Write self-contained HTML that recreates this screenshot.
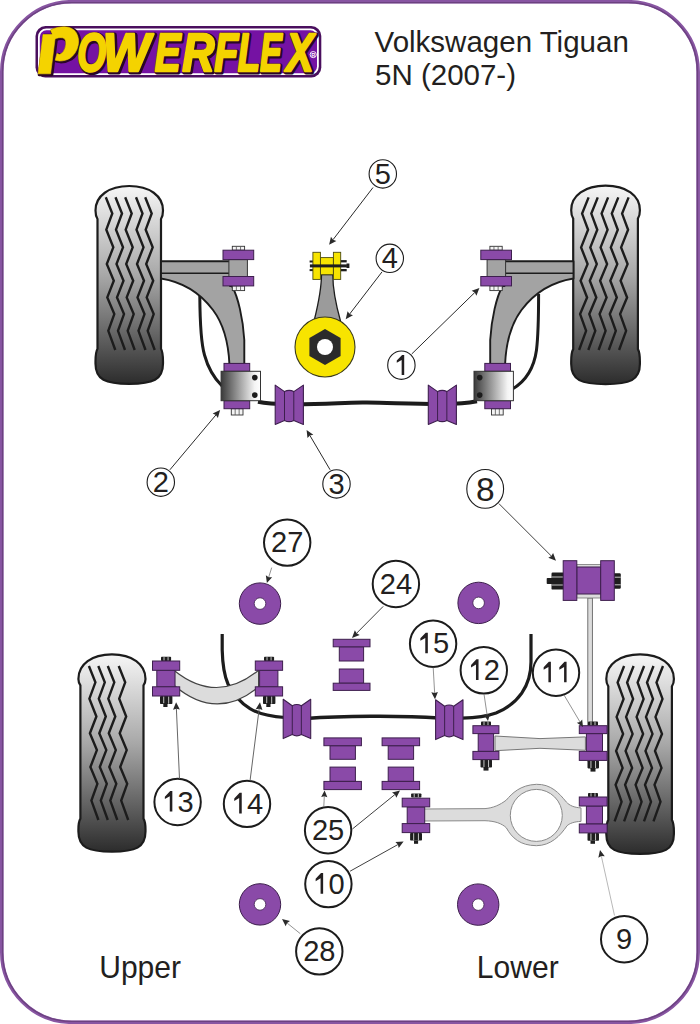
<!DOCTYPE html>
<html><head><meta charset="utf-8"><title>Powerflex VW Tiguan</title>
<style>
html,body{margin:0;padding:0;background:#fff;}
body{width:700px;height:1024px;overflow:hidden;}
svg{display:block;font-family:"Liberation Sans",sans-serif;}
</style></head><body>
<svg width="700" height="1024" viewBox="0 0 700 1024">
<defs>
<linearGradient id="tg" x1="0" y1="0" x2="0" y2="1">
<stop offset="0" stop-color="#f6f6f6"/><stop offset="0.45" stop-color="#a8a8a8"/><stop offset="0.82" stop-color="#555"/><stop offset="1" stop-color="#2c2c2c"/>
</linearGradient>
<linearGradient id="bg" x1="0" y1="0" x2="1" y2="0">
<stop offset="0" stop-color="#3a3a3a"/><stop offset="0.85" stop-color="#f4f4f4"/><stop offset="1" stop-color="#fff"/>
</linearGradient>
<linearGradient id="bg2" x1="0" y1="0" x2="1" y2="0">
<stop offset="0" stop-color="#3a3a3a"/><stop offset="0.85" stop-color="#f4f4f4"/><stop offset="1" stop-color="#fff"/>
</linearGradient>
</defs>
<rect x="1.8" y="1.75" width="696.35" height="1020.5" rx="70" ry="70" fill="none" stroke="#8855a2" stroke-width="3.6"/>
<rect x="2.6" y="2.55" width="694.75" height="1018.9" rx="69.2" ry="69.2" fill="none" stroke="#6c4280" stroke-width="1.3"/>
<rect x="35.5" y="26" width="285.8" height="51.5" rx="10" fill="#4a0f5e"/>
<rect x="38.9" y="29.4" width="279" height="44.7" rx="7.5" fill="#7512a3" stroke="#fff" stroke-width="1.8"/>
<g font-family="&quot;Liberation Sans&quot;, sans-serif" font-weight="bold" font-style="italic" font-size="54.5"><g fill="#2a0626" stroke="#2a0626" stroke-linejoin="round"><g stroke-width="5.2"><text x="0" y="0" transform="translate(78.38,72) scale(0.68,1)">O</text><text x="0" y="0" transform="translate(104.05,72) scale(0.92,1)">W</text><text x="0" y="0" transform="translate(156.02,72) scale(0.71,1)">E</text><text x="0" y="0" transform="translate(183.42,72) scale(0.82,1)">R</text><text x="0" y="0" transform="translate(215.51,72) scale(0.72,1)">F</text><text x="0" y="0" transform="translate(239.06,72) scale(0.67,1)">L</text><text x="0" y="0" transform="translate(261.13,72) scale(0.6,1)">E</text><text x="0" y="0" transform="translate(287.57,72) scale(0.75,1)">X</text></g><g stroke-width="3.2"><path transform="translate(1.2,0.8)" d="M38.1,73.8 L50.6,73.8 L55.6,34.5 L43,34.5 Z"/><path transform="translate(1.2,0.8)" d="M50.5,30 C55,27.6 60,26.8 64.5,26.8 C70,26.9 74,29 76.4,33 C78.5,37 79,41 78.2,45 C77,51 74,55.5 70,58.2 C67,60 63.5,61 59.5,61 L55.2,60.2 L57,53.5 L59.5,54.5 C62.5,53.5 64.8,50 65.6,46 C66.4,42 65.6,38.5 62.5,37.8 C59.5,37.3 56.5,38 54.5,39 Z"/></g></g><g fill="#f4d300" stroke="#f4d300" stroke-linejoin="round"><g stroke-width="2.4"><text x="0" y="0" transform="translate(77.18,71.2) scale(0.68,1)">O</text><text x="0" y="0" transform="translate(102.85,71.2) scale(0.92,1)">W</text><text x="0" y="0" transform="translate(154.82,71.2) scale(0.71,1)">E</text><text x="0" y="0" transform="translate(182.22,71.2) scale(0.82,1)">R</text><text x="0" y="0" transform="translate(214.31,71.2) scale(0.72,1)">F</text><text x="0" y="0" transform="translate(237.86,71.2) scale(0.67,1)">L</text><text x="0" y="0" transform="translate(259.93,71.2) scale(0.6,1)">E</text><text x="0" y="0" transform="translate(286.37,71.2) scale(0.75,1)">X</text></g><g stroke-width="0.6"><path transform="translate(0,0)" d="M38.1,73.8 L50.6,73.8 L55.6,34.5 L43,34.5 Z"/><path transform="translate(0,0)" d="M50.5,30 C55,27.6 60,26.8 64.5,26.8 C70,26.9 74,29 76.4,33 C78.5,37 79,41 78.2,45 C77,51 74,55.5 70,58.2 C67,60 63.5,61 59.5,61 L55.2,60.2 L57,53.5 L59.5,54.5 C62.5,53.5 64.8,50 65.6,46 C66.4,42 65.6,38.5 62.5,37.8 C59.5,37.3 56.5,38 54.5,39 Z"/></g></g></g>
<circle cx="313.2" cy="54.6" r="3.1" fill="none" stroke="#fff" stroke-width="0.9"/>
<text x="313.2" y="56.6" font-size="5.5" font-weight="bold" text-anchor="middle" fill="#fff">R</text>
<text x="374.6" y="51.7" font-size="29.5" fill="#231f20">Volkswagen Tiguan</text>
<text x="375" y="84.7" font-size="29.5" fill="#231f20">5N (2007-)</text>
<text x="0" y="0" transform="translate(99.2,978) scale(0.97,1)" font-size="31" fill="#231f20">Upper</text>
<text x="0" y="0" transform="translate(476.8,977.8) scale(0.97,1)" font-size="31" fill="#231f20">Lower</text>
<path d="M97.5,219 C95.5,216 95.5,213.5 95.5,210.5 C95.5,195.8 109,186 129.25,186 C149.5,186 163,195.8 163,210.5 C163,213.5 163,216 161,219 L161,348.8 C163.3,352.8 163,357.8 163,363.8 C163,379.8 153,383.8 129.25,383.8 C105.5,383.8 95.5,379.8 95.5,363.8 C95.5,357.8 95.2,352.8 97.5,348.8 Z" fill="url(#tg)" stroke="#1c1c1c" stroke-width="2.2"/>
<polyline points="105.8,197.3 112.3,213.48 106.3,229.66 113.3,247.36 106.8,264.04 113.8,280.73 107.3,297.41 114.3,314.1 108.3,330.79 115.3,350" fill="none" stroke="#1c1c1c" stroke-width="2.4" stroke-linejoin="miter"/>
<polyline points="115.5,197.3 122,213.48 116,229.66 123,247.36 116.5,264.04 123.5,280.73 117,297.41 124,314.1 118,330.79 125,350" fill="none" stroke="#1c1c1c" stroke-width="2.4" stroke-linejoin="miter"/>
<polyline points="125.2,197.3 131.7,213.48 125.7,229.66 132.7,247.36 126.2,264.04 133.2,280.73 126.7,297.41 133.7,314.1 127.7,330.79 134.7,350" fill="none" stroke="#1c1c1c" stroke-width="2.4" stroke-linejoin="miter"/>
<polyline points="136,197.3 142.5,213.48 136.5,229.66 143.5,247.36 137,264.04 144,280.73 137.5,297.41 144.5,314.1 138.5,330.79 145.5,350" fill="none" stroke="#1c1c1c" stroke-width="2.4" stroke-linejoin="miter"/>
<polyline points="145.2,197.3 151.7,213.48 145.7,229.66 152.7,247.36 146.2,264.04 153.2,280.73 146.7,297.41 153.7,314.1 147.7,330.79 154.7,350" fill="none" stroke="#1c1c1c" stroke-width="2.4" stroke-linejoin="miter"/>
<path d="M573.2,218.7 C571.2,215.7 571.2,213.2 571.2,210.2 C571.2,195.5 584.94,185.7 605.55,185.7 C626.16,185.7 639.9,195.5 639.9,210.2 C639.9,213.2 639.9,215.7 637.9,218.7 L637.9,349.1 C640.2,353.1 639.9,358.1 639.9,364.1 C639.9,380.1 629.9,384.1 605.55,384.1 C581.2,384.1 571.2,380.1 571.2,364.1 C571.2,358.1 570.9,353.1 573.2,349.1 Z" fill="url(#tg)" stroke="#1c1c1c" stroke-width="2.2"/>
<polyline points="628.6,197.4 622.1,213.57 628.1,229.74 621.1,247.42 627.6,264.1 620.6,280.77 627.1,297.45 620.1,314.12 626.1,330.8 619.1,350" fill="none" stroke="#1c1c1c" stroke-width="2.4" stroke-linejoin="miter"/>
<polyline points="618.3,197.4 611.8,213.57 617.8,229.74 610.8,247.42 617.3,264.1 610.3,280.77 616.8,297.45 609.8,314.12 615.8,330.8 608.8,350" fill="none" stroke="#1c1c1c" stroke-width="2.4" stroke-linejoin="miter"/>
<polyline points="608.1,197.4 601.6,213.57 607.6,229.74 600.6,247.42 607.1,264.1 600.1,280.77 606.6,297.45 599.6,314.12 605.6,330.8 598.6,350" fill="none" stroke="#1c1c1c" stroke-width="2.4" stroke-linejoin="miter"/>
<polyline points="597.8,197.4 591.3,213.57 597.3,229.74 590.3,247.42 596.8,264.1 589.8,280.77 596.3,297.45 589.3,314.12 595.3,330.8 588.3,350" fill="none" stroke="#1c1c1c" stroke-width="2.4" stroke-linejoin="miter"/>
<polyline points="588.6,197.4 582.1,213.57 588.1,229.74 581.1,247.42 587.6,264.1 580.6,280.77 587.1,297.45 580.1,314.12 586.1,330.8 579.1,350" fill="none" stroke="#1c1c1c" stroke-width="2.4" stroke-linejoin="miter"/>
<path d="M199.8,296 C200,325 201,343 204.5,355 C208,368 214,378 222,386" fill="none" stroke="#1c1c1c" stroke-width="3"/>
<path d="M538.6,294 C538.6,318 538.3,335 536.5,350 C534,368 526,381 512.5,389" fill="none" stroke="#1c1c1c" stroke-width="3"/>
<path d="M258,401.8 C266,403.5 272,404 290,404.3 C330,404.5 345,402 367,402.5 C395,403 420,404.3 445,404 C460,404 468,403 477,401.3" fill="none" stroke="#1c1c1c" stroke-width="4"/>
<g>
<path d="M161,261.2 H230 V286 L232,286 C238,297 243,318 244.3,340 L244.3,364 L229.4,364 C228.5,345 225,326 213,310 C201,294 183,282 161,278.5 Z" fill="#a3a3a3" stroke="#1c1c1c" stroke-width="1.9" stroke-linejoin="round"/>
<line x1="161" y1="273.3" x2="229" y2="273.3" stroke="#1c1c1c" stroke-width="1.4"/>
<rect x="232.3" y="246.3" width="12.3" height="3.9" fill="#f4f4f4" stroke="#333" stroke-width="0.9"/>
<line x1="236.36" y1="246.3" x2="236.36" y2="250.2" stroke="#555" stroke-width="0.8"/>
<line x1="240.54" y1="246.3" x2="240.54" y2="250.2" stroke="#555" stroke-width="0.8"/>
<rect x="232.3" y="285.9" width="12.3" height="4.7" fill="#f4f4f4" stroke="#333" stroke-width="0.9"/>
<line x1="236.36" y1="285.9" x2="236.36" y2="290.6" stroke="#555" stroke-width="0.8"/>
<line x1="240.54" y1="285.9" x2="240.54" y2="290.6" stroke="#555" stroke-width="0.8"/>
<rect x="228.9" y="259.6" width="18.5" height="16.9" fill="#a3a3a3" stroke="#333" stroke-width="1"/>
<rect x="223" y="250.2" width="30.7" height="9.4" fill="#8a4aa8" stroke="#3d1f4d" stroke-width="1"/>
<rect x="223" y="276.5" width="30.7" height="9.4" fill="#8a4aa8" stroke="#3d1f4d" stroke-width="1"/>
<rect x="231.3" y="408.7" width="11.7" height="6.3" fill="#f4f4f4" stroke="#333" stroke-width="0.9"/>
<line x1="235.16" y1="408.7" x2="235.16" y2="415" stroke="#555" stroke-width="0.8"/>
<line x1="239.14" y1="408.7" x2="239.14" y2="415" stroke="#555" stroke-width="0.8"/>
<rect x="224" y="363.4" width="25.7" height="7.9" fill="#8a4aa8" stroke="#3d1f4d" stroke-width="1"/>
<rect x="224" y="400.7" width="25.7" height="8" fill="#8a4aa8" stroke="#3d1f4d" stroke-width="1"/>
</g>
<g transform="translate(734.5,0) scale(-1,1)">
<path d="M161,261.2 H230 V286 L232,286 C238,297 243,318 244.3,340 L244.3,364 L229.4,364 C228.5,345 225,326 213,310 C201,294 183,282 161,278.5 Z" fill="#a3a3a3" stroke="#1c1c1c" stroke-width="1.9" stroke-linejoin="round"/>
<line x1="161" y1="273.3" x2="229" y2="273.3" stroke="#1c1c1c" stroke-width="1.4"/>
<rect x="232.3" y="246.3" width="12.3" height="3.9" fill="#f4f4f4" stroke="#333" stroke-width="0.9"/>
<line x1="236.36" y1="246.3" x2="236.36" y2="250.2" stroke="#555" stroke-width="0.8"/>
<line x1="240.54" y1="246.3" x2="240.54" y2="250.2" stroke="#555" stroke-width="0.8"/>
<rect x="232.3" y="285.9" width="12.3" height="4.7" fill="#f4f4f4" stroke="#333" stroke-width="0.9"/>
<line x1="236.36" y1="285.9" x2="236.36" y2="290.6" stroke="#555" stroke-width="0.8"/>
<line x1="240.54" y1="285.9" x2="240.54" y2="290.6" stroke="#555" stroke-width="0.8"/>
<rect x="228.9" y="259.6" width="18.5" height="16.9" fill="#a3a3a3" stroke="#333" stroke-width="1"/>
<rect x="223" y="250.2" width="30.7" height="9.4" fill="#8a4aa8" stroke="#3d1f4d" stroke-width="1"/>
<rect x="223" y="276.5" width="30.7" height="9.4" fill="#8a4aa8" stroke="#3d1f4d" stroke-width="1"/>
<rect x="231.3" y="408.7" width="11.7" height="6.3" fill="#f4f4f4" stroke="#333" stroke-width="0.9"/>
<line x1="235.16" y1="408.7" x2="235.16" y2="415" stroke="#555" stroke-width="0.8"/>
<line x1="239.14" y1="408.7" x2="239.14" y2="415" stroke="#555" stroke-width="0.8"/>
<rect x="224" y="363.4" width="25.7" height="7.9" fill="#8a4aa8" stroke="#3d1f4d" stroke-width="1"/>
<rect x="224" y="400.7" width="25.7" height="8" fill="#8a4aa8" stroke="#3d1f4d" stroke-width="1"/>
</g>
<rect x="221.1" y="371.3" width="39.4" height="29.4" fill="url(#bg)" stroke="#333" stroke-width="1"/>
<circle cx="254.8" cy="377.6" r="2.8" fill="#1c1c1c"/><circle cx="254.8" cy="395.1" r="2.8" fill="#1c1c1c"/>
<rect x="474" y="371.3" width="39.4" height="29.4" fill="url(#bg2)" stroke="#333" stroke-width="1"/>
<circle cx="479.7" cy="377.6" r="2.8" fill="#1c1c1c"/><circle cx="479.7" cy="395.1" r="2.8" fill="#1c1c1c"/>
<path d="M275.2,385.1 L284.51,391.6 Q289.16,389.1 293.81,391.6 L303.4,385.1 L303.4,424.4 L293.81,420.4 Q289.16,422.9 284.51,420.4 L275.2,424.4 Z" fill="#8a4aa8" stroke="#3d1f4d" stroke-width="1.1" stroke-linejoin="round"/>
<line x1="284.51" y1="391.6" x2="284.51" y2="420.4" stroke="#3d1f4d" stroke-width="1"/>
<line x1="293.81" y1="391.6" x2="293.81" y2="420.4" stroke="#3d1f4d" stroke-width="1"/>
<path d="M428.3,385.1 L437.57,391.6 Q442.21,389.1 446.85,391.6 L456.4,385.1 L456.4,424.4 L446.85,420.4 Q442.21,422.9 437.57,420.4 L428.3,424.4 Z" fill="#8a4aa8" stroke="#3d1f4d" stroke-width="1.1" stroke-linejoin="round"/>
<line x1="437.57" y1="391.6" x2="437.57" y2="420.4" stroke="#3d1f4d" stroke-width="1"/>
<line x1="446.85" y1="391.6" x2="446.85" y2="420.4" stroke="#3d1f4d" stroke-width="1"/>
<path d="M314.3,320 C318,305 321.5,290 321.5,274.5 L332.8,274.5 C332.8,290 336,305 340.5,321 Z" fill="#9b9b9b" stroke="#1c1c1c" stroke-width="1.3"/>
<circle cx="325" cy="347" r="30" fill="#f7e400" stroke="#3a3a1a" stroke-width="1.1"/>
<polygon points="325,329 340.6,338 340.6,356 325,365 309.4,356 309.4,338" fill="#2b2b2b"/>
<circle cx="325" cy="347" r="8" fill="#fff"/>
<rect x="309.6" y="260.5" width="3.6" height="2" fill="#1e1e1e"/><rect x="309.6" y="269.1" width="3.6" height="2" fill="#1e1e1e"/>
<rect x="340.5" y="260.1" width="6.2" height="2.3" fill="#1e1e1e"/><rect x="340.5" y="269" width="6.2" height="2.3" fill="#1e1e1e"/>
<rect x="346.5" y="263.5" width="2.9" height="4.5" fill="#1e1e1e"/>
<rect x="320.4" y="257.6" width="13" height="17.1" fill="#f7e400" stroke="#4a4a10" stroke-width="0.9"/>
<rect x="312.9" y="252.3" width="7.5" height="27.1" fill="#f7e400" stroke="#4a4a10" stroke-width="0.9"/>
<rect x="333.4" y="252.3" width="7.3" height="27.1" fill="#f7e400" stroke="#4a4a10" stroke-width="0.9"/>
<rect x="309.9" y="264.4" width="37" height="3" fill="#1e1e1e"/>
<ellipse cx="382.8" cy="173.9" rx="13.7" ry="14.2" fill="#fff" stroke="#1c1c1c" stroke-width="1.1"/>
<g transform="translate(382.8,183.6) scale(1.0,1)" fill="#231f20"><text x="-8.06" y="0" font-size="29">5</text></g>
<line x1="373" y1="187.5" x2="333.05" y2="239.64" stroke="#2a2a2a" stroke-width="1.0"/>
<polygon points="329.1,244.8 330.96,236.78 333.05,239.64 336.36,240.91" fill="#2a2a2a"/>
<ellipse cx="389.8" cy="258.3" rx="13.7" ry="14.2" fill="#fff" stroke="#1c1c1c" stroke-width="1.1"/>
<g transform="translate(389.8,268) scale(1.0,1)" fill="#231f20"><text x="-8.06" y="0" font-size="29">4</text></g>
<line x1="382" y1="271.9" x2="349.66" y2="314.04" stroke="#2a2a2a" stroke-width="1.0"/>
<polygon points="345.7,319.2 347.57,311.18 349.66,314.04 352.96,315.32" fill="#2a2a2a"/>
<ellipse cx="401.4" cy="365.2" rx="13.7" ry="14.2" fill="#fff" stroke="#1c1c1c" stroke-width="1.1"/>
<g transform="translate(401.4,374.9) scale(1.0,1)" fill="#231f20"><path d="M2.81,-19.95 L2.81,0 L0.26,0 L0.26,-14.88 L-4.64,-12.06 L-4.64,-14.44 L0.69,-19.95 Z"/></g>
<line x1="411.7" y1="354" x2="474.75" y2="292.54" stroke="#2a2a2a" stroke-width="1.0"/>
<polygon points="479.4,288 476.4,295.67 474.75,292.54 471.66,290.8" fill="#2a2a2a"/>
<ellipse cx="160.8" cy="482.2" rx="13.7" ry="14.2" fill="#fff" stroke="#1c1c1c" stroke-width="1.1"/>
<g transform="translate(160.8,491.9) scale(1.0,1)" fill="#231f20"><text x="-8.06" y="0" font-size="29">2</text></g>
<line x1="169.9" y1="469.8" x2="215.92" y2="414.98" stroke="#2a2a2a" stroke-width="1.0"/>
<polygon points="220.1,410 217.88,417.93 215.92,414.98 212.67,413.56" fill="#2a2a2a"/>
<ellipse cx="336.5" cy="483.9" rx="13.7" ry="14.2" fill="#fff" stroke="#1c1c1c" stroke-width="1.1"/>
<g transform="translate(336.5,493.6) scale(1.0,1)" fill="#231f20"><text x="-8.06" y="0" font-size="29">3</text></g>
<line x1="330.1" y1="469.8" x2="309.9" y2="435.5" stroke="#2a2a2a" stroke-width="1.0"/>
<polygon points="306.6,429.9 313.34,434.64 309.9,435.5 307.48,438.09" fill="#2a2a2a"/>
<path d="M80.4,685.4 C78.4,682.4 78.4,681.9 78.4,678.9 C78.4,664.2 91.82,654.4 111.95,654.4 C132.08,654.4 145.5,664.2 145.5,678.9 C145.5,681.9 145.5,682.4 143.5,685.4 L143.5,818.6 C145.8,822.6 145.5,825.6 145.5,831.6 C145.5,847.6 135.5,851.6 111.95,851.6 C88.4,851.6 78.4,847.6 78.4,831.6 C78.4,825.6 78.1,822.6 80.4,818.6 Z" fill="url(#tg)" stroke="#1c1c1c" stroke-width="2.2"/>
<polyline points="88.9,666 95.4,682.32 89.4,698.64 96.4,716.48 89.9,733.31 96.9,750.14 90.4,766.97 97.4,783.79 91.4,800.62 98.4,820" fill="none" stroke="#1c1c1c" stroke-width="2.4" stroke-linejoin="miter"/>
<polyline points="98.3,666 104.8,682.32 98.8,698.64 105.8,716.48 99.3,733.31 106.3,750.14 99.8,766.97 106.8,783.79 100.8,800.62 107.8,820" fill="none" stroke="#1c1c1c" stroke-width="2.4" stroke-linejoin="miter"/>
<polyline points="107.8,666 114.3,682.32 108.3,698.64 115.3,716.48 108.8,733.31 115.8,750.14 109.3,766.97 116.3,783.79 110.3,800.62 117.3,820" fill="none" stroke="#1c1c1c" stroke-width="2.4" stroke-linejoin="miter"/>
<polyline points="118.7,666 125.2,682.32 119.2,698.64 126.2,716.48 119.7,733.31 126.7,750.14 120.2,766.97 127.2,783.79 121.2,800.62 128.2,820" fill="none" stroke="#1c1c1c" stroke-width="2.4" stroke-linejoin="miter"/>
<path d="M608.3,686.4 C606.3,683.4 606.3,681.9 606.3,678.9 C606.3,664.2 619.82,654.4 640.1,654.4 C660.38,654.4 673.9,664.2 673.9,678.9 C673.9,681.9 673.9,683.4 671.9,686.4 L671.9,819.9 C674.2,823.9 673.9,827.9 673.9,833.9 C673.9,849.9 663.9,853.9 640.1,853.9 C616.3,853.9 606.3,849.9 606.3,833.9 C606.3,827.9 606,823.9 608.3,819.9 Z" fill="url(#tg)" stroke="#1c1c1c" stroke-width="2.2"/>
<polyline points="663,666 656.5,682.47 662.5,698.93 655.5,716.94 662,733.92 655,750.9 661.5,767.88 654.5,784.87 660.5,801.85 653.5,821.4" fill="none" stroke="#1c1c1c" stroke-width="2.4" stroke-linejoin="miter"/>
<polyline points="653.5,666 647,682.47 653,698.93 646,716.94 652.5,733.92 645.5,750.9 652,767.88 645,784.87 651,801.85 644,821.4" fill="none" stroke="#1c1c1c" stroke-width="2.4" stroke-linejoin="miter"/>
<polyline points="644.1,666 637.6,682.47 643.6,698.93 636.6,716.94 643.1,733.92 636.1,750.9 642.6,767.88 635.6,784.87 641.6,801.85 634.6,821.4" fill="none" stroke="#1c1c1c" stroke-width="2.4" stroke-linejoin="miter"/>
<polyline points="633.6,666 627.1,682.47 633.1,698.93 626.1,716.94 632.6,733.92 625.6,750.9 632.1,767.88 625.1,784.87 631.1,801.85 624.1,821.4" fill="none" stroke="#1c1c1c" stroke-width="2.4" stroke-linejoin="miter"/>
<polyline points="624.1,666 617.6,682.47 623.6,698.93 616.6,716.94 623.1,733.92 616.1,750.9 622.6,767.88 615.6,784.87 621.6,801.85 614.6,821.4" fill="none" stroke="#1c1c1c" stroke-width="2.4" stroke-linejoin="miter"/>
<path d="M222.2,634 L222.2,650 C222.5,662 224,675 228,684 C233,694 241,703 250,708.7 C258,713.5 268,716.5 285,717.5" fill="none" stroke="#1c1c1c" stroke-width="3.2"/>
<path d="M531,634 L531,662 C531,686 518,704 496,713 C485,717 475,717.8 462,718.2" fill="none" stroke="#1c1c1c" stroke-width="3.2"/>
<path d="M306,718.5 C340,716 400,715.3 439,718" fill="none" stroke="#1c1c1c" stroke-width="3.5"/>
<path d="M174.5,670.7 Q216.8,704.5 258.6,670.3 L258.6,686.8 Q216.8,721.6 174.5,685.7 Z" fill="#dcdcdc" stroke="#444" stroke-width="1.2"/>
<rect x="161" y="656.8" width="10.1" height="4.2" fill="#1e1e1e" rx="0.8"/>
<line x1="164.03" y1="657.1" x2="164.03" y2="660.7" stroke="#d8d8d8" stroke-width="0.9"/>
<line x1="168.07" y1="657.1" x2="168.07" y2="660.7" stroke="#d8d8d8" stroke-width="0.9"/>
<rect x="160" y="696" width="12.4" height="8" fill="#1e1e1e" rx="0.8"/>
<line x1="163.72" y1="696.3" x2="163.72" y2="703.7" stroke="#d8d8d8" stroke-width="0.9"/>
<line x1="168.68" y1="696.3" x2="168.68" y2="703.7" stroke="#d8d8d8" stroke-width="0.9"/>
<rect x="163.3" y="703" width="4.2" height="4" fill="#1e1e1e"/>
<rect x="156.8" y="670.3" width="18.2" height="16.5" fill="#8a4aa8" stroke="#3d1f4d" stroke-width="1"/>
<rect x="152.5" y="661" width="27.2" height="9.3" fill="#8a4aa8" stroke="#3d1f4d" stroke-width="1"/>
<rect x="152.5" y="686.8" width="27.2" height="9.2" fill="#8a4aa8" stroke="#3d1f4d" stroke-width="1"/>
<rect x="264" y="656.8" width="10.1" height="4.2" fill="#1e1e1e" rx="0.8"/>
<line x1="267.03" y1="657.1" x2="267.03" y2="660.7" stroke="#d8d8d8" stroke-width="0.9"/>
<line x1="271.07" y1="657.1" x2="271.07" y2="660.7" stroke="#d8d8d8" stroke-width="0.9"/>
<rect x="263" y="696" width="12.4" height="8" fill="#1e1e1e" rx="0.8"/>
<line x1="266.72" y1="696.3" x2="266.72" y2="703.7" stroke="#d8d8d8" stroke-width="0.9"/>
<line x1="271.68" y1="696.3" x2="271.68" y2="703.7" stroke="#d8d8d8" stroke-width="0.9"/>
<rect x="266.3" y="703" width="4.2" height="4" fill="#1e1e1e"/>
<rect x="259.6" y="670.3" width="18.3" height="16.5" fill="#8a4aa8" stroke="#3d1f4d" stroke-width="1"/>
<rect x="255.3" y="661" width="27.3" height="9.3" fill="#8a4aa8" stroke="#3d1f4d" stroke-width="1"/>
<rect x="255.3" y="686.8" width="27.3" height="9.2" fill="#8a4aa8" stroke="#3d1f4d" stroke-width="1"/>
<path d="M283.2,699.3 L292.27,705.8 Q296.81,703.3 301.35,705.8 L310.7,699.3 L310.7,738.6 L301.35,734.6 Q296.81,737.1 292.27,734.6 L283.2,738.6 Z" fill="#8a4aa8" stroke="#3d1f4d" stroke-width="1.1" stroke-linejoin="round"/>
<line x1="292.27" y1="705.8" x2="292.27" y2="734.6" stroke="#3d1f4d" stroke-width="1"/>
<line x1="301.35" y1="705.8" x2="301.35" y2="734.6" stroke="#3d1f4d" stroke-width="1"/>
<path d="M435.6,699.8 L444.64,706.3 Q449.16,703.8 453.68,706.3 L463,699.8 L463,739.6 L453.68,735.6 Q449.16,738.1 444.64,735.6 L435.6,739.6 Z" fill="#8a4aa8" stroke="#3d1f4d" stroke-width="1.1" stroke-linejoin="round"/>
<line x1="444.64" y1="706.3" x2="444.64" y2="735.6" stroke="#3d1f4d" stroke-width="1"/>
<line x1="453.68" y1="706.3" x2="453.68" y2="735.6" stroke="#3d1f4d" stroke-width="1"/>
<rect x="339.3" y="646.8" width="24.3" height="14.2" fill="#8a4aa8" stroke="#3d1f4d" stroke-width="1"/>
<rect x="333.2" y="639.3" width="36.8" height="7.5" fill="#8a4aa8" stroke="#3d1f4d" stroke-width="1"/>
<rect x="333.2" y="661" width="36.8" height="0" fill="#8a4aa8" stroke="#3d1f4d" stroke-width="1"/>
<rect x="339.3" y="669" width="24.3" height="14.2" fill="#8a4aa8" stroke="#3d1f4d" stroke-width="1"/>
<rect x="333.2" y="683.2" width="36.8" height="7.2" fill="#8a4aa8" stroke="#3d1f4d" stroke-width="1"/>
<rect x="330" y="745.7" width="25.4" height="13.6" fill="#8a4aa8" stroke="#3d1f4d" stroke-width="1"/>
<rect x="323.9" y="737.9" width="37.5" height="7.8" fill="#8a4aa8" stroke="#3d1f4d" stroke-width="1"/>
<rect x="330" y="767.1" width="25.4" height="14.3" fill="#8a4aa8" stroke="#3d1f4d" stroke-width="1"/>
<rect x="323.9" y="781.4" width="37.5" height="8.2" fill="#8a4aa8" stroke="#3d1f4d" stroke-width="1"/>
<rect x="388.2" y="745.7" width="25.4" height="13.6" fill="#8a4aa8" stroke="#3d1f4d" stroke-width="1"/>
<rect x="382.1" y="737.9" width="37.5" height="7.8" fill="#8a4aa8" stroke="#3d1f4d" stroke-width="1"/>
<rect x="388.2" y="767.1" width="25.4" height="14.3" fill="#8a4aa8" stroke="#3d1f4d" stroke-width="1"/>
<rect x="382.1" y="781.4" width="37.5" height="8.2" fill="#8a4aa8" stroke="#3d1f4d" stroke-width="1"/>
<circle cx="260" cy="603.6" r="20.7" fill="#8a4aa8" stroke="#3d1f4d" stroke-width="1"/>
<circle cx="260" cy="603.6" r="5.8" fill="#fff" stroke="#3d1f4d" stroke-width="0.8"/>
<circle cx="478.6" cy="602.9" r="20.7" fill="#8a4aa8" stroke="#3d1f4d" stroke-width="1"/>
<circle cx="478.6" cy="602.9" r="5.8" fill="#fff" stroke="#3d1f4d" stroke-width="0.8"/>
<circle cx="260" cy="904.4" r="20.7" fill="#8a4aa8" stroke="#3d1f4d" stroke-width="1"/>
<circle cx="260" cy="904.4" r="5.8" fill="#fff" stroke="#3d1f4d" stroke-width="0.8"/>
<circle cx="478.2" cy="904.6" r="20.7" fill="#8a4aa8" stroke="#3d1f4d" stroke-width="1"/>
<circle cx="478.2" cy="904.6" r="5.8" fill="#fff" stroke="#3d1f4d" stroke-width="0.8"/>
<rect x="587.8" y="598" width="4.6" height="130" fill="#dcdcdc" stroke="#666" stroke-width="0.9"/>
<rect x="546.7" y="578" width="6" height="6" fill="#1e1e1e" rx="0.8"/>
<rect x="551.5" y="572.6" width="12.5" height="17" fill="#1e1e1e" rx="1.2"/>
<rect x="613.5" y="573.2" width="7.3" height="15.6" fill="#1e1e1e" rx="1.2"/>
<path d="M551.5,577 H564 M551.5,585 H564 M613.5,577.2 H620.8 M613.5,584.8 H620.8" stroke="#c8c8c8" stroke-width="1"/>
<rect x="576.8" y="564.6" width="23.9" height="33.4" fill="#dcdcdc" stroke="#777" stroke-width="0.8"/>
<rect x="576.8" y="567" width="23.9" height="27" fill="#8a4aa8" stroke="#3d1f4d" stroke-width="1"/>
<rect x="563.2" y="560.7" width="13.6" height="39.7" fill="#8a4aa8" stroke="#3d1f4d" stroke-width="1"/>
<rect x="600.7" y="560.7" width="13.6" height="39.7" fill="#8a4aa8" stroke="#3d1f4d" stroke-width="1"/>
<path d="M495,736 L540,738.6 L585.4,736.9 L585.4,750.3 L540,748.3 L495,750.7 Z" fill="#dcdcdc" stroke="#777" stroke-width="1"/>
<rect x="481" y="721.4" width="10" height="4.3" fill="#1e1e1e" rx="0.8"/>
<line x1="484" y1="721.7" x2="484" y2="725.4" stroke="#d8d8d8" stroke-width="0.9"/>
<line x1="488" y1="721.7" x2="488" y2="725.4" stroke="#d8d8d8" stroke-width="0.9"/>
<rect x="480.5" y="759.6" width="11.5" height="8" fill="#1e1e1e" rx="0.8"/>
<line x1="483.95" y1="759.9" x2="483.95" y2="767.3" stroke="#d8d8d8" stroke-width="0.9"/>
<line x1="488.55" y1="759.9" x2="488.55" y2="767.3" stroke="#d8d8d8" stroke-width="0.9"/>
<rect x="483.5" y="767" width="5" height="3.6" fill="#1e1e1e"/>
<rect x="478.2" y="733.6" width="15.4" height="17.8" fill="#8a4aa8" stroke="#3d1f4d" stroke-width="1"/>
<rect x="472.9" y="725.7" width="26" height="7.9" fill="#8a4aa8" stroke="#3d1f4d" stroke-width="1"/>
<rect x="472.9" y="751.4" width="26" height="8.2" fill="#8a4aa8" stroke="#3d1f4d" stroke-width="1"/>
<rect x="588" y="721.4" width="10" height="4.3" fill="#1e1e1e" rx="0.8"/>
<line x1="591" y1="721.7" x2="591" y2="725.4" stroke="#d8d8d8" stroke-width="0.9"/>
<line x1="595" y1="721.7" x2="595" y2="725.4" stroke="#d8d8d8" stroke-width="0.9"/>
<rect x="587.5" y="760.4" width="11.5" height="8" fill="#1e1e1e" rx="0.8"/>
<line x1="590.95" y1="760.7" x2="590.95" y2="768.1" stroke="#d8d8d8" stroke-width="0.9"/>
<line x1="595.55" y1="760.7" x2="595.55" y2="768.1" stroke="#d8d8d8" stroke-width="0.9"/>
<rect x="590.5" y="768" width="5" height="3.6" fill="#1e1e1e"/>
<rect x="586.4" y="733.6" width="16.1" height="17.8" fill="#8a4aa8" stroke="#3d1f4d" stroke-width="1"/>
<rect x="579.3" y="725.7" width="27.8" height="7.9" fill="#8a4aa8" stroke="#3d1f4d" stroke-width="1"/>
<rect x="579.3" y="751.4" width="27.8" height="9" fill="#8a4aa8" stroke="#3d1f4d" stroke-width="1"/>
<path d="M423,809 L485,808.6 C493,808 500,805 506.4,800 C512,793.5 520,785 536.4,784.3 C551,784 559,793 566.4,802.1 C569.5,805.5 574,807.5 581,807.9 L581,821.4 C574,821.6 569.5,823.5 567.1,825.7 C560,836 551,845.5 536.4,845.7 C520,845.5 512,838 506.4,827.9 C502,823.5 495,821 485,820.7 L423,821 Z" fill="#dcdcdc" stroke="#8a8a8a" stroke-width="1"/>
<circle cx="536.3" cy="815.4" r="26" fill="#fff" stroke="#8a8a8a" stroke-width="1"/>
<rect x="411.1" y="793.4" width="10.3" height="4.2" fill="#1e1e1e" rx="0.8"/>
<line x1="414.19" y1="793.7" x2="414.19" y2="797.3" stroke="#d8d8d8" stroke-width="0.9"/>
<line x1="418.31" y1="793.7" x2="418.31" y2="797.3" stroke="#d8d8d8" stroke-width="0.9"/>
<rect x="410.1" y="832.9" width="11.9" height="7.7" fill="#1e1e1e" rx="0.8"/>
<line x1="413.67" y1="833.2" x2="413.67" y2="840.3" stroke="#d8d8d8" stroke-width="0.9"/>
<line x1="418.43" y1="833.2" x2="418.43" y2="840.3" stroke="#d8d8d8" stroke-width="0.9"/>
<rect x="414" y="840.4" width="4.1" height="3.4" fill="#1e1e1e"/>
<rect x="407.2" y="806.9" width="17.5" height="16.7" fill="#8a4aa8" stroke="#3d1f4d" stroke-width="1"/>
<rect x="402.2" y="798.2" width="27.5" height="8.7" fill="#8a4aa8" stroke="#3d1f4d" stroke-width="1"/>
<rect x="402.2" y="823.6" width="27.5" height="9" fill="#8a4aa8" stroke="#3d1f4d" stroke-width="1"/>
<rect x="588" y="792.9" width="10" height="4.2" fill="#1e1e1e" rx="0.8"/>
<line x1="591" y1="793.2" x2="591" y2="796.8" stroke="#d8d8d8" stroke-width="0.9"/>
<line x1="595" y1="793.2" x2="595" y2="796.8" stroke="#d8d8d8" stroke-width="0.9"/>
<rect x="587.5" y="833" width="11.5" height="7.8" fill="#1e1e1e" rx="0.8"/>
<line x1="590.95" y1="833.3" x2="590.95" y2="840.5" stroke="#d8d8d8" stroke-width="0.9"/>
<line x1="595.55" y1="833.3" x2="595.55" y2="840.5" stroke="#d8d8d8" stroke-width="0.9"/>
<rect x="590.5" y="840.6" width="4.5" height="3.2" fill="#1e1e1e"/>
<rect x="586.4" y="806" width="16.1" height="18" fill="#8a4aa8" stroke="#3d1f4d" stroke-width="1"/>
<rect x="579.3" y="797" width="27.8" height="9" fill="#8a4aa8" stroke="#3d1f4d" stroke-width="1"/>
<rect x="579.3" y="824" width="27.8" height="8.9" fill="#8a4aa8" stroke="#3d1f4d" stroke-width="1"/>
<circle cx="287.2" cy="542.6" r="23.2" fill="#fff" stroke="#1c1c1c" stroke-width="2.0"/>
<g transform="translate(287.2,552.2) scale(0.97,1)" fill="#231f20"><text x="-16.68" y="0" font-size="30">2</text><text x="0" y="0" font-size="30">7</text></g>
<line x1="271.7" y1="567.6" x2="268.69" y2="577.27" stroke="#777" stroke-width="0.8"/>
<polygon points="266.9,583 265.83,575.34 268.69,577.27 272.13,577.3" fill="#2a2a2a"/>
<circle cx="395.9" cy="584" r="23.2" fill="#fff" stroke="#1c1c1c" stroke-width="2.0"/>
<g transform="translate(395.9,593.6) scale(0.97,1)" fill="#231f20"><text x="-16.68" y="0" font-size="30">2</text><text x="0" y="0" font-size="30">4</text></g>
<line x1="383.2" y1="606.4" x2="356.57" y2="633.28" stroke="#2a2a2a" stroke-width="0.9"/>
<polygon points="352,637.9 354.86,630.18 356.57,633.28 359.69,634.96" fill="#2a2a2a"/>
<circle cx="433.1" cy="643.7" r="23.2" fill="#fff" stroke="#1c1c1c" stroke-width="2.0"/>
<g transform="translate(433.1,653.3) scale(0.97,1)" fill="#231f20"><path d="M-5.43,-20.64 L-5.43,0 L-8.07,0 L-8.07,-15.39 L-13.14,-12.48 L-13.14,-14.94 L-7.62,-20.64 Z"/><text x="0" y="0" font-size="30">5</text></g>
<line x1="433.2" y1="667.5" x2="434.65" y2="693.11" stroke="#777" stroke-width="0.8"/>
<polygon points="435,699.3 431.3,692.3 434.65,693.11 437.89,691.93" fill="#2a2a2a"/>
<circle cx="483.8" cy="670.3" r="23.2" fill="#fff" stroke="#1c1c1c" stroke-width="2.0"/>
<g transform="translate(483.8,679.9) scale(0.97,1)" fill="#231f20"><path d="M-5.43,-20.64 L-5.43,0 L-8.07,0 L-8.07,-15.39 L-13.14,-12.48 L-13.14,-14.94 L-7.62,-20.64 Z"/><text x="0" y="0" font-size="30">2</text></g>
<line x1="484" y1="694" x2="487.15" y2="715.26" stroke="#777" stroke-width="0.8"/>
<polygon points="488,721 483.94,714.73 487.15,715.26 490.07,713.82" fill="#2a2a2a"/>
<circle cx="556" cy="672.7" r="23.2" fill="#fff" stroke="#1c1c1c" stroke-width="2.0"/>
<g transform="translate(556,682.3) scale(0.94,1)" fill="#231f20"><path d="M-5.43,-20.64 L-5.43,0 L-8.07,0 L-8.07,-15.39 L-13.14,-12.48 L-13.14,-14.94 L-7.62,-20.64 Z"/><path d="M11.25,-20.64 L11.25,0 L8.61,0 L8.61,-15.39 L3.54,-12.48 L3.54,-14.94 L9.06,-20.64 Z"/></g>
<line x1="564" y1="695" x2="580.04" y2="722.01" stroke="#777" stroke-width="0.8"/>
<polygon points="583,727 576.86,722.74 580.04,722.01 582.19,719.57" fill="#2a2a2a"/>
<ellipse cx="485.2" cy="488.9" rx="18.4" ry="19.4" fill="#fff" stroke="#1c1c1c" stroke-width="1.1"/>
<g transform="translate(485.2,500.5) scale(1.0,1)" fill="#231f20"><text x="-9.32" y="0" font-size="33.5">8</text></g>
<line x1="498.9" y1="503.6" x2="551.4" y2="556.1" stroke="#2a2a2a" stroke-width="0.9"/>
<polygon points="556,560.7 548.29,557.8 551.4,556.1 553.1,552.99" fill="#2a2a2a"/>
<circle cx="177.6" cy="802" r="23.2" fill="#fff" stroke="#1c1c1c" stroke-width="2.0"/>
<g transform="translate(177.6,811.6) scale(0.97,1)" fill="#231f20"><path d="M-5.43,-20.64 L-5.43,0 L-8.07,0 L-8.07,-15.39 L-13.14,-12.48 L-13.14,-14.94 L-7.62,-20.64 Z"/><text x="0" y="0" font-size="30">3</text></g>
<line x1="179.5" y1="779" x2="176.39" y2="708.69" stroke="#555" stroke-width="0.9"/>
<polygon points="176.1,702.2 179.83,709.54 176.39,708.69 173.04,709.84" fill="#2a2a2a"/>
<circle cx="247" cy="803.9" r="23.2" fill="#fff" stroke="#1c1c1c" stroke-width="2.0"/>
<g transform="translate(247,813.5) scale(0.97,1)" fill="#231f20"><path d="M-5.43,-20.64 L-5.43,0 L-8.07,0 L-8.07,-15.39 L-13.14,-12.48 L-13.14,-14.94 L-7.62,-20.64 Z"/><text x="0" y="0" font-size="30">4</text></g>
<line x1="250" y1="781" x2="259.18" y2="708.65" stroke="#555" stroke-width="0.9"/>
<polygon points="260,702.2 262.43,710.07 259.18,708.65 255.68,709.21" fill="#2a2a2a"/>
<circle cx="328.1" cy="830.2" r="23.2" fill="#fff" stroke="#1c1c1c" stroke-width="2.0"/>
<g transform="translate(328.1,839.8) scale(0.97,1)" fill="#231f20"><text x="-16.68" y="0" font-size="30">2</text><text x="0" y="0" font-size="30">5</text></g>
<line x1="323.8" y1="806.5" x2="324.31" y2="796.19" stroke="#777" stroke-width="0.8"/>
<polygon points="324.6,790.4 327.36,797.35 324.31,796.19 321.17,797.04" fill="#2a2a2a"/>
<line x1="352.4" y1="829" x2="394.95" y2="794.49" stroke="#2a2a2a" stroke-width="0.9"/>
<polygon points="400,790.4 396.32,797.76 394.95,794.49 392.03,792.48" fill="#2a2a2a"/>
<circle cx="328.4" cy="884.1" r="23.2" fill="#fff" stroke="#1c1c1c" stroke-width="2.0"/>
<g transform="translate(328.4,893.7) scale(0.97,1)" fill="#231f20"><path d="M-5.43,-20.64 L-5.43,0 L-8.07,0 L-8.07,-15.39 L-13.14,-12.48 L-13.14,-14.94 L-7.62,-20.64 Z"/><text x="0" y="0" font-size="30">0</text></g>
<line x1="350.1" y1="871.2" x2="397.92" y2="844.56" stroke="#2a2a2a" stroke-width="0.9"/>
<polygon points="403.6,841.4 398.7,848.02 397.92,844.56 395.39,842.08" fill="#2a2a2a"/>
<circle cx="319.3" cy="951.4" r="23.2" fill="#fff" stroke="#1c1c1c" stroke-width="2.0"/>
<g transform="translate(319.3,961) scale(0.97,1)" fill="#231f20"><text x="-16.68" y="0" font-size="30">2</text><text x="0" y="0" font-size="30">8</text></g>
<line x1="300.3" y1="933.7" x2="287.05" y2="922.99" stroke="#777" stroke-width="0.8"/>
<polygon points="282,918.9 289.97,920.97 287.05,922.99 285.69,926.26" fill="#2a2a2a"/>
<circle cx="624.2" cy="939.2" r="23.2" fill="#fff" stroke="#1c1c1c" stroke-width="2.0"/>
<g transform="translate(624.2,948.8) scale(0.97,1)" fill="#231f20"><text x="-8.34" y="0" font-size="30">9</text></g>
<line x1="614.5" y1="915.5" x2="601.34" y2="856.05" stroke="#999" stroke-width="0.7"/>
<polygon points="600,850 604.78,856.32 601.34,856.05 598.33,857.74" fill="#2a2a2a"/>
</svg>
</body></html>
